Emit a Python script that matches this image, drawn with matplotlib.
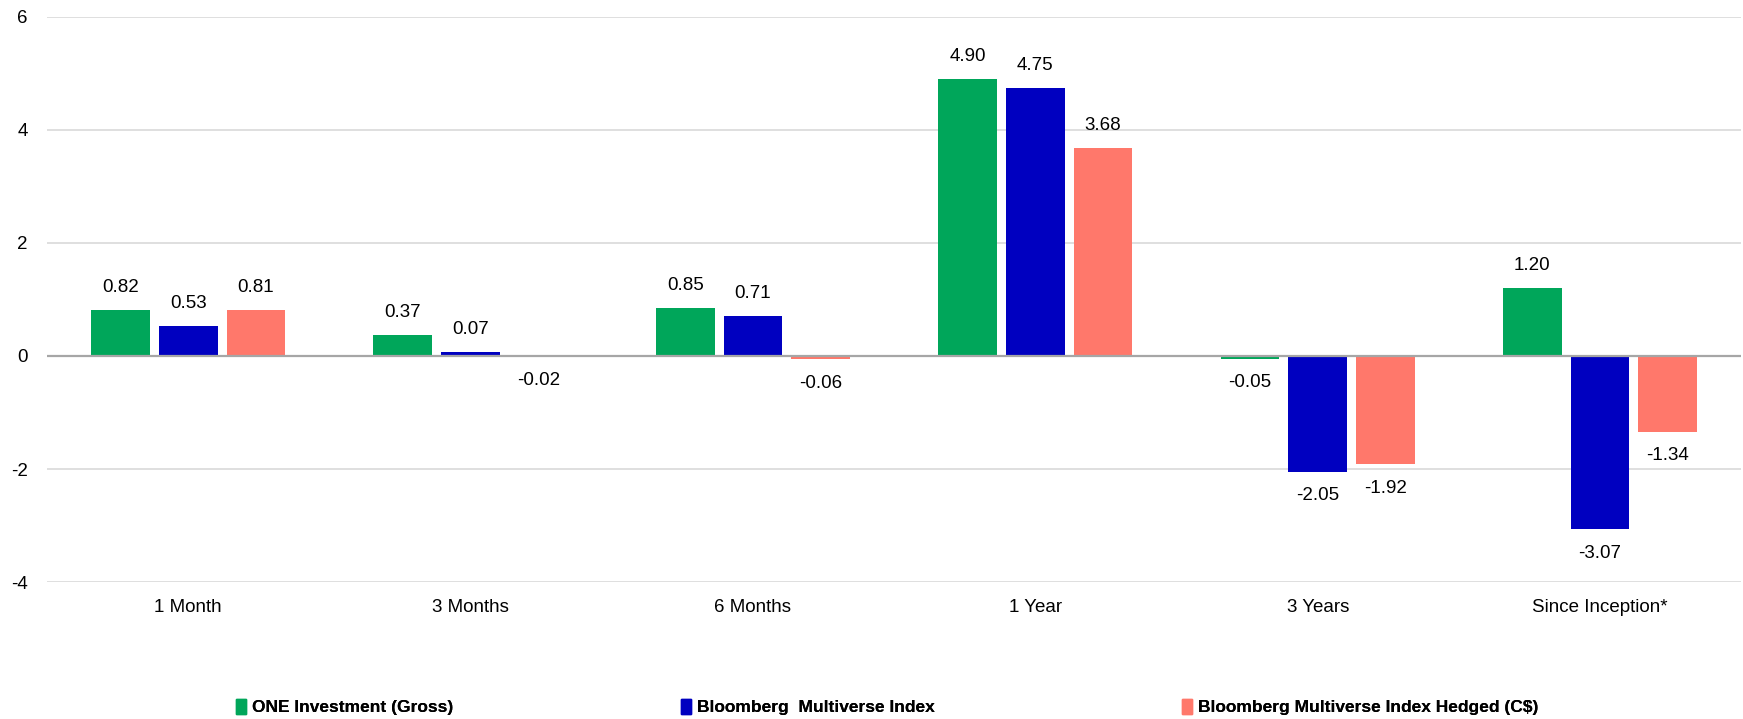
import numpy as np
from matplotlib import pyplot as plt
from matplotlib.patches import Patch

plt.rcParams["font.family"] = ["Liberation Sans", "DejaVu Sans"]
plt.rcParams["axes.unicode_minus"] = False

periods = ["1 Month", "3 Months", "6 Months", "1 Year", "3 Years", "Since Inception*"]
series_names = ["ONE Investment (Gross)", "Bloomberg  Multiverse Index", "Bloomberg Multiverse Index Hedged (C$)"]
one_gross = [0.82, 0.37, 0.85, 4.90, -0.05, 1.20]
multiverse = [0.53, 0.07, 0.71, 4.75, -2.05, -3.07]
multiverse_hedged = [0.81, -0.02, -0.06, 3.68, -1.92, -1.34]
colors = ["#00A65A", "#0000C0", "#FF786B"]

fig = plt.figure(figsize=(17.43, 7.19), dpi=100)
ax = fig.add_axes([0.027, 0.1905, 0.972, 0.786])

x = np.arange(len(periods))
offsets = [-0.24, 0, 0.24]
for vals, off, col, name in zip([one_gross, multiverse, multiverse_hedged], offsets, colors, series_names):
    bars = ax.bar(x + off, vals, width=0.208, color=col, label=name, zorder=3)
    for b, v in zip(bars, vals):
        if v >= 0:
            ax.annotate(f"{v:.2f}", (b.get_x() + b.get_width() / 2, v), xytext=(0, 10),
                        textcoords="offset points", ha="center", va="bottom", fontsize=13.5)
        else:
            ax.annotate(f"{v:.2f}", (b.get_x() + b.get_width() / 2, v), xytext=(0, -11),
                        textcoords="offset points", ha="center", va="top", fontsize=13.5)

ax.set_ylim(-4, 6)
ax.set_xlim(-0.5, len(periods) - 0.5)
ax.set_yticks([-4, -2, 0, 2, 4, 6])
ax.set_xticks(x)
ax.set_xticklabels(periods)
ax.tick_params(axis="both", length=0, labelsize=13.5)
ax.tick_params(axis="y", pad=14)
ax.tick_params(axis="x", pad=12)
ax.grid(axis="y", color="#D9D9D9", linewidth=1.2, zorder=0)
ax.axhline(0, color="#A6A6A6", linewidth=1.6, zorder=4)
for s in ax.spines.values():
    s.set_visible(False)

# one legend entry per position, spread along the bottom
legend_x = [236, 681, 1182]
for name, col, lx in zip(series_names, colors, legend_x):
    leg = fig.legend(handles=[Patch(color=col, label=name)], loc="center left",
                     bbox_to_anchor=(lx / 1743, 1 - 707 / 719), frameon=False,
                     prop={"weight": "bold", "size": 12.5}, handlelength=0.6, handleheight=1.0,
                     handletextpad=0.3, borderaxespad=0, borderpad=0)
    fig.add_artist(leg)

fig.savefig("out.png", dpi=100)
